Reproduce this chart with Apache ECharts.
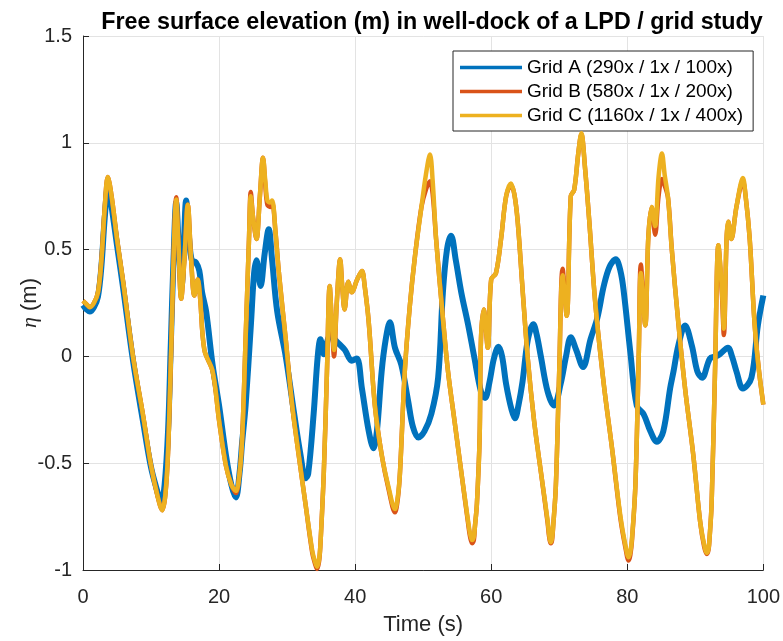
<!DOCTYPE html>
<html>
<head>
<meta charset="utf-8">
<script src="https://cdn.jsdelivr.net/npm/echarts@6/dist/echarts.min.js"></script>
<style>
html,body{margin:0;padding:0;background:#fff;}
#chart{width:783px;height:641px;}
</style>
</head>
<body>
<div id="chart"></div>
<script>
var seriesNames = ['Grid A (290x / 1x / 100x)', 'Grid B (580x / 1x / 200x)', 'Grid C (1160x / 1x / 400x)'];
var xTicks = [0, 20, 40, 60, 80, 100];
var yTicks = [-1, -0.5, 0, 0.5, 1, 1.5];

var tA = [0,0.5,1.0,1.6,2.2,2.7,3.2,3.7,4.3,5.0,5.9,7.35,8.8,10.0,11.0,11.5,12.0,12.5,12.9,13.3,13.7,14.1,14.5,14.8,15.16,15.6,16.0,16.6,17.1,17.5,18.1,19.05,20.0,21.0,21.8,22.47,23.0,23.4,23.9,24.7,25.15,25.5,26.1,26.7,27.3,27.8,28.55,29.8,31.0,31.97,32.7,33.1,33.9,34.5,34.9,35.4,36.0,36.4,37.0,37.6,38.5,39.5,40.25,41.0,42.0,42.7,43.2,43.9,44.5,45.1,45.86,46.8,47.8,48.5,49.3,50.2,51.2,52.2,52.9,53.5,54.1,54.8,55.6,56.6,57.55,58.5,59.1,59.75,60.4,61.07,61.6,62.2,63.0,63.5,64.0,64.6,65.4,66.2,66.7,67.3,68.3,69.25,70.2,71.0,71.7,72.5,73.5,74.6,75.6,76.55,77.4,78.3,79.0,79.5,80.45,81.4,82.4,83.4,84.35,85.3,86.3,86.8,87.5,88.5,89.5,90.3,91.0,92.15,93.0,93.6,94.8,95.4,96.05,97.0,98.25,99.2,100];
var etaA = [0.24,0.22,0.21,0.23,0.28,0.42,0.65,0.80,0.68,0.52,0.32,-0.02,-0.30,-0.52,-0.64,-0.69,-0.60,-0.35,0.05,0.45,0.72,0.50,0.33,0.50,0.73,0.55,0.45,0.44,0.40,0.30,0.21,-0.04,-0.23,-0.46,-0.60,-0.66,-0.55,-0.40,-0.23,0.16,0.39,0.45,0.33,0.48,0.595,0.45,0.21,0.0,-0.26,-0.46,-0.57,-0.55,-0.27,0.0,0.08,0.01,0.08,0.10,0.08,0.06,0.03,-0.02,-0.01,-0.15,-0.35,-0.43,-0.35,-0.07,0.08,0.16,0.04,-0.04,-0.21,-0.33,-0.38,-0.35,-0.27,-0.10,0.30,0.50,0.565,0.45,0.30,0.15,-0.01,-0.165,-0.195,-0.12,-0.01,0.045,0.0,-0.13,-0.25,-0.29,-0.23,-0.12,0.08,0.15,0.10,0.0,-0.165,-0.23,-0.13,0.0,0.09,0.03,-0.05,0.08,0.18,0.33,0.42,0.455,0.40,0.30,0.02,-0.23,-0.27,-0.35,-0.40,-0.35,-0.15,-0.07,0.05,0.145,0.05,-0.07,-0.10,-0.01,0.0,0.01,0.04,0.0,-0.07,-0.15,-0.10,0.145,0.285];

var tBC = [0,0.5,1.0,1.6,2.2,2.7,3.2,3.65,4.2,5.0,
  5.9,7.35,8.8,10.0,11.0,11.65,12.1,12.5,12.97,13.35,
  13.7,14.0,14.43,14.9,15.4,15.9,16.37,16.86,17.2,17.84,
  19.05,20.0,21.0,21.8,22.47,23.0,23.4,23.9,24.4,24.66,
  25.0,25.5,26.0,26.46,26.8,27.1,27.5,27.8,28.3,28.8,
  29.8,30.75,31.7,32.7,33.7,34.1,34.4,34.7,34.9,35.4,35.86,36.26,
  36.6,36.9,37.3,37.8,38.1,38.45,39.0,39.5,40.3,41.0,
  41.4,42.0,42.9,43.9,44.9,45.86,46.3,46.6,47.3,48.05,
  48.8,49.75,50.4,51.0,51.4,51.9,52.9,53.65,54.6,55.6,
  56.6,56.9,57.2,57.45,57.6,57.9,58.3,58.5,58.9,59.5,60.0,60.7,
  61.45,62.2,62.9,63.4,63.9,64.6,65.35,66.3,67.3,68.3,
  68.5,68.76,68.95,69.1,69.5,70.0,70.5,71.1,71.7,72.2,72.8,73.25,
  73.8,74.4,75.3,76.55,77.8,79.0,79.7,80.2,80.45,80.7,81.2,
  81.7,82.0,82.65,83.1,83.6,84.1,84.6,85.1,85.5,86.0,
  86.55,87.5,88.5,89.7,90.7,91.3,91.7,91.95,92.1,92.4,92.9,
  93.4,93.9,94.2,94.6,94.85,95.3,96.05,97.0,97.4,98.0,
  98.7,99.3,100];
var etaB = [0.26,0.245,0.23,0.25,0.30,0.45,0.70,0.84,0.75,0.55,
  0.35,0.0,-0.27,-0.51,-0.66,-0.72,-0.65,-0.45,0.04,0.5,
  0.745,0.55,0.27,0.45,0.71,0.45,0.285,0.36,0.28,0.03,
  -0.07,-0.30,-0.51,-0.60,-0.64,-0.55,-0.38,0.08,0.55,0.77,
  0.65,0.55,0.75,0.93,0.80,0.71,0.70,0.72,0.58,0.39,
  0.08,-0.23,-0.46,-0.69,-0.92,-0.97,-0.995,-0.96,-0.88,-0.54,-0.07,0.33,
  0.14,0.0,0.25,0.455,0.33,0.22,0.35,0.30,0.36,0.40,
  0.33,0.16,-0.23,-0.46,-0.62,-0.73,-0.66,-0.54,-0.07,0.24,
  0.47,0.70,0.78,0.82,0.76,0.55,0.18,-0.07,-0.30,-0.54,
  -0.78,-0.845,-0.875,-0.86,-0.80,-0.69,-0.38,0.08,0.22,0.04,0.36,0.39,
  0.55,0.75,0.80,0.76,0.63,0.32,0.0,-0.30,-0.54,-0.78,
  -0.84,-0.875,-0.86,-0.80,-0.61,-0.07,0.41,0.19,0.75,0.78,0.95,1.04,
  0.88,0.64,0.25,-0.13,-0.44,-0.76,-0.89,-0.955,-0.93,-0.86,-0.60,
  0.02,0.43,0.145,0.56,0.70,0.57,0.75,0.83,0.80,0.74,
  0.50,0.16,-0.15,-0.46,-0.77,-0.89,-0.925,-0.905,-0.85,-0.69,-0.07,
  0.52,0.30,0.10,0.55,0.63,0.55,0.70,0.82,0.75,0.55,
  0.16,-0.05,-0.225];
var etaC = [0.26,0.245,0.23,0.25,0.30,0.45,0.70,0.84,0.75,0.55,
  0.35,0.0,-0.27,-0.51,-0.66,-0.72,-0.65,-0.45,0.04,0.5,
  0.735,0.55,0.27,0.45,0.71,0.45,0.285,0.36,0.28,0.03,
  -0.07,-0.30,-0.51,-0.60,-0.63,-0.55,-0.38,0.08,0.55,0.75,
  0.65,0.55,0.75,0.93,0.82,0.73,0.72,0.73,0.58,0.39,
  0.08,-0.23,-0.46,-0.69,-0.91,-0.96,-0.985,-0.95,-0.88,-0.54,-0.07,0.33,
  0.15,0.03,0.25,0.455,0.33,0.22,0.35,0.30,0.36,0.40,
  0.33,0.16,-0.23,-0.46,-0.61,-0.715,-0.65,-0.54,-0.07,0.24,
  0.47,0.70,0.85,0.945,0.82,0.55,0.18,-0.07,-0.30,-0.54,
  -0.77,-0.83,-0.86,-0.845,-0.80,-0.69,-0.38,0.08,0.22,0.04,0.36,0.39,
  0.55,0.75,0.81,0.76,0.63,0.32,0.0,-0.30,-0.54,-0.77,
  -0.83,-0.87,-0.85,-0.80,-0.61,-0.07,0.38,0.19,0.75,0.78,0.95,1.045,
  0.88,0.64,0.25,-0.13,-0.44,-0.75,-0.88,-0.94,-0.915,-0.85,-0.60,
  0.02,0.39,0.145,0.56,0.70,0.61,0.84,0.95,0.85,0.74,
  0.50,0.16,-0.15,-0.46,-0.77,-0.88,-0.92,-0.90,-0.85,-0.69,-0.07,
  0.52,0.32,0.13,0.55,0.63,0.55,0.70,0.835,0.75,0.55,
  0.16,-0.05,-0.225];

function pairs(t, v) { return t.map(function (x, i) { return [x, v[i]]; }); }

var FONT = '"Liberation Sans", Arial, Helvetica, sans-serif';
var INK = '#262626';
var chart = echarts.init(document.getElementById('chart'), null, {renderer: 'canvas'});
chart.setOption({
  animation: false,
  backgroundColor: '#ffffff',
  color: ['#0072BD', '#D95319', '#EDB120'],
  title: {
    text: 'Free surface elevation (m) in well-dock of a LPD / grid study',
    left: 427, textAlign: 'center', top: 6,
    textStyle: {fontFamily: FONT, fontSize: 23.3, fontWeight: 'bold', color: '#000'}
  },
  legend: {
    data: seriesNames,
    left: 453, top: 51, orient: 'vertical',
    icon: 'rect', itemWidth: 62, itemHeight: 3.5, itemGap: 5,
    padding: [7, 10, 6, 7],
    backgroundColor: '#fff', borderColor: '#262626', borderWidth: 1,
    textStyle: {fontFamily: FONT, fontSize: 19, lineHeight: 19, color: '#000'}
  },
  grid: {left: 83, right: 16, top: 36, bottom: 67},
  xAxis: {
    type: 'value', min: xTicks[0], max: xTicks[xTicks.length - 1], interval: 20,
    name: 'Time (s)', nameLocation: 'middle', nameGap: 44, nameMoveOverlap: false,
    nameTextStyle: {fontFamily: FONT, fontSize: 22, color: INK},
    axisLine: {onZero: false, lineStyle: {color: INK, width: 1}},
    axisTick: {inside: true, length: 6, lineStyle: {color: INK}},
    axisLabel: {fontFamily: FONT, fontSize: 20, color: INK, margin: 17},
    splitLine: {show: true, lineStyle: {color: '#e3e3e3', width: 1}}
  },
  yAxis: {
    type: 'value', min: yTicks[0], max: yTicks[yTicks.length - 1], interval: 0.5,
    name: '{i|η} (m)', nameLocation: 'middle', nameGap: 42, nameMoveOverlap: false,
    nameTextStyle: {fontFamily: FONT, fontSize: 22, color: INK,
      rich: {i: {fontFamily: '"Liberation Serif", "DejaVu Serif", serif', fontStyle: 'italic', fontSize: 22, color: INK}}},
    axisLine: {show: true, onZero: false, lineStyle: {color: INK, width: 1}},
    axisTick: {show: true, inside: true, length: 6, lineStyle: {color: INK}},
    axisLabel: {fontFamily: FONT, fontSize: 20, color: INK, margin: 11},
    splitLine: {show: true, lineStyle: {color: '#e3e3e3', width: 1}}
  },
  series: [
    {name: seriesNames[0], type: 'line', data: pairs(tA, etaA), showSymbol: false, smooth: 0.35,
     lineStyle: {width: 6, color: '#0072BD'}, z: 2},
    {name: seriesNames[1], type: 'line', data: pairs(tBC, etaB), showSymbol: false, smooth: 0.35,
     lineStyle: {width: 4.5, color: '#D95319'}, z: 3},
    {name: seriesNames[2], type: 'line', data: pairs(tBC, etaC), showSymbol: false, smooth: 0.35,
     lineStyle: {width: 4.5, color: '#EDB120'}, z: 4}
  ]
});
</script>
</body>
</html>
